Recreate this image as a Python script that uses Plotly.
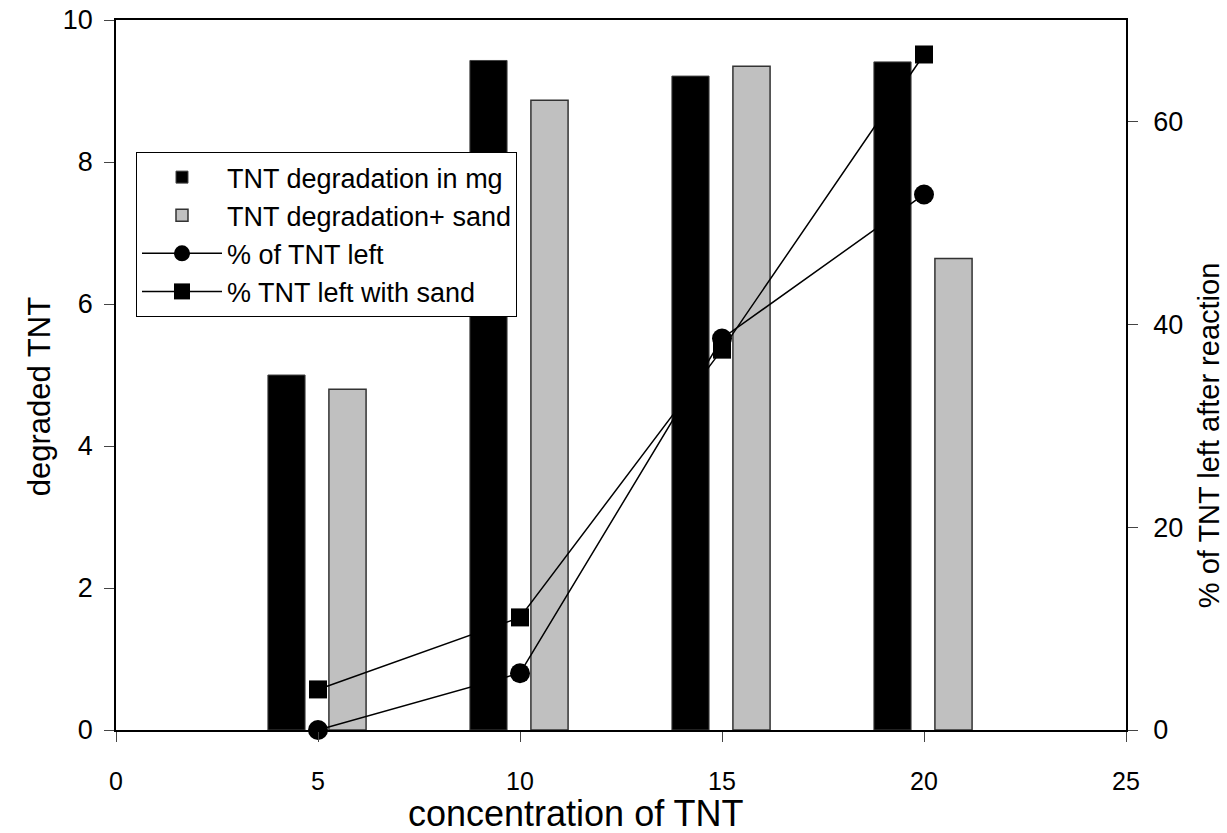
import plotly.graph_objects as go

concentration = [5, 10, 15, 20]
tnt_degradation_mg = [5.0, 9.43, 9.21, 9.41]
tnt_degradation_sand = [4.8, 8.87, 9.35, 6.64]
pct_tnt_left = [0.0, 5.6, 38.6, 52.8]
pct_tnt_left_sand = [4.0, 11.1, 37.5, 66.6]

x_ticks = [0, 5, 10, 15, 20, 25]
y_ticks = [0, 2, 4, 6, 8, 10]
y2_ticks = [0, 20, 40, 60]

font = "Liberation Sans, Arial, sans-serif"

fig = go.Figure()
fig.add_trace(go.Bar(
    x=concentration, y=tnt_degradation_mg, name="TNT degradation in mg",
    width=0.92, offset=-1.24,
    marker=dict(color="black", line=dict(color="#444444", width=1)),
))
fig.add_trace(go.Bar(
    x=concentration, y=tnt_degradation_sand, name="TNT degradation+ sand",
    width=0.92, offset=0.27,
    marker=dict(color="#c0c0c0", line=dict(color="#333333", width=1.5)),
))
fig.add_trace(go.Scatter(
    x=concentration, y=pct_tnt_left, name="% of TNT left", yaxis="y2",
    mode="lines+markers", line=dict(color="black", width=1.5),
    marker=dict(symbol="circle", size=20, color="black"),
    cliponaxis=False,
))
fig.add_trace(go.Scatter(
    x=concentration, y=pct_tnt_left_sand, name="% TNT left with sand", yaxis="y2",
    mode="lines+markers", line=dict(color="black", width=1.5),
    marker=dict(symbol="square", size=18, color="black"),
    cliponaxis=False,
))

fig.update_layout(
    width=1227, height=833,
    margin=dict(l=116, r=101, t=20, b=103),
    paper_bgcolor="white", plot_bgcolor="white",
    barmode="overlay",
    font=dict(family=font, size=24, color="black"),
    showlegend=True,
    legend=dict(
        x=0.0198, y=0.814, xanchor="left", yanchor="top",
        bordercolor="black", borderwidth=1, bgcolor="white",
        font=dict(size=27), tracegroupgap=0, itemwidth=80,
    ),
    xaxis=dict(
        range=[0, 25], tickvals=x_ticks, ticks="outside", ticklen=10,
        showline=True, linecolor="black", linewidth=1.5, mirror=True,
        showgrid=False, zeroline=False, automargin=False,
        ticklabelstandoff=18, tickfont=dict(size=25),
    ),
    yaxis=dict(
        range=[0, 10], tickvals=y_ticks, ticks="outside", ticklen=10,
        showline=True, linecolor="black", linewidth=1.5,
        showgrid=False, zeroline=False, automargin=False,
        ticklabelstandoff=6, tickfont=dict(size=27),
    ),
    yaxis2=dict(
        range=[0, 70], tickvals=y2_ticks, ticks="outside", ticklen=10,
        overlaying="y", side="right",
        showline=True, linecolor="black", linewidth=1.5,
        showgrid=False, zeroline=False, automargin=False,
        ticklabelstandoff=10, tickfont=dict(size=27),
    ),
    annotations=[
        dict(text="concentration of TNT", xref="paper", yref="paper",
             x=0.455, y=-0.117, xanchor="center", yanchor="middle",
             showarrow=False, font=dict(size=36)),
        dict(text="degraded TNT", xref="paper", yref="paper",
             x=-0.076, y=0.469, xanchor="center", yanchor="middle",
             textangle=-90, showarrow=False, font=dict(size=31)),
        dict(text="% of TNT left after reaction", xref="paper", yref="paper",
             x=1.083, y=0.415, xanchor="center", yanchor="middle",
             textangle=-90, showarrow=False, font=dict(size=29)),
    ],
)

fig.write_html("out.html")
